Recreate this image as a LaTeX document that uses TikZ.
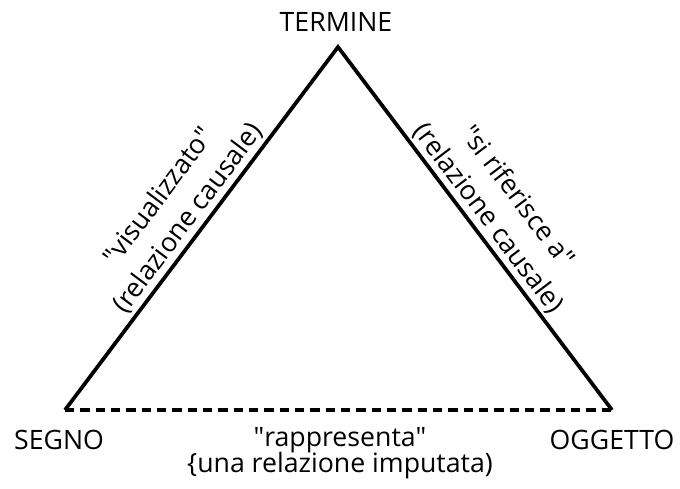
\documentclass[tikz,border=0pt]{standalone}
\usepackage{fontspec}
\setmainfont{Open Sans}

\begin{document}
\begin{tikzpicture}[
   x = 0.75pt, y = -0.75pt,
   every node/.style = {text=black, font=\fontsize{20}{27}\selectfont},
   side/.style = {line width = 2.8pt},
   base/.style = {line width = 2.8pt, dash pattern = on 7pt off 4.5pt},
   rel/.style = {sloped, above, align=center, inner sep=2pt},
]
   \useasboundingbox (0,0) rectangle (680,488);
   % corners
   \coordinate (termine) at (338,47);
   \coordinate (segno)   at (65,410);
   \coordinate (oggetto) at (612,410);
   % triangle
   \draw [side] (segno)
      -- node [rel] (vis) {\textquotedbl visualizzato\textquotedbl\\(relazione causale)} (termine)
      -- node [rel] (rif) {\textquotedbl si riferisce a\textquotedbl\\(relazione causale)} (oggetto);
   \draw [base] (segno) -- (oggetto);
   % labels
   \node (ltermine) at (336,22)  {TERMINE};
   \node (lsegno)   at (59,440)  {SEGNO};
   \node (loggetto) at (612,440) {OGGETTO};
   \node (rapp)     at (340,440) {\textquotedbl rappresenta\textquotedbl};
   \node (imput)    at (340,466) {\{una relazione imputata)};
\end{tikzpicture}
\end{document}
